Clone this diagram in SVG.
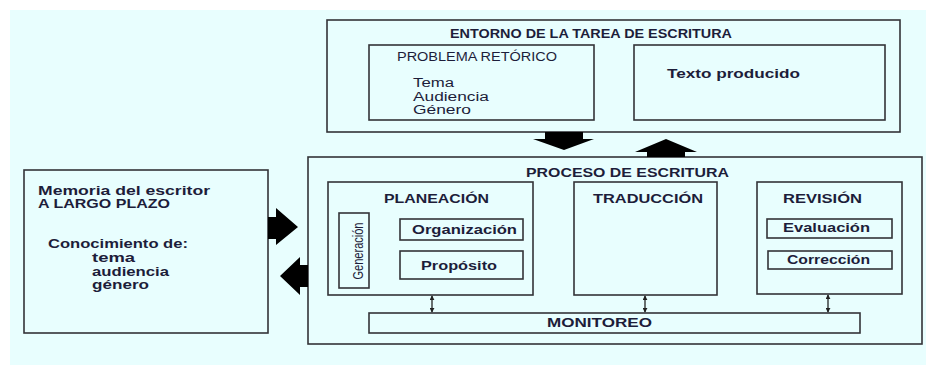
<svg xmlns="http://www.w3.org/2000/svg" width="932" height="365" viewBox="0 0 932 365">
<defs>
<style>
.box{fill:none;stroke:#333338;stroke-width:1.6}
.t{font-family:"Liberation Sans",Arial,sans-serif;fill:#1d1d3a;font-size:12px}
.b{font-weight:bold}
.blk{fill:#000}
.dl{stroke:#222;stroke-width:1.3;marker-start:url(#ah);marker-end:url(#ah)}
</style>
<marker id="ah" viewBox="0 0 6 6" refX="5" refY="3" markerWidth="5" markerHeight="5" orient="auto-start-reverse" markerUnits="userSpaceOnUse">
<path d="M0,0 L6,3 L0,6 z" fill="#222"/>
</marker>
</defs>
<rect x="0" y="0" width="932" height="365" fill="#ffffff"/>
<rect x="10" y="10" width="916" height="355" fill="#e8fefe"/>

<g id="entorno">
<rect class="box" x="327" y="20" width="573" height="112"/>
<text class="t b" x="591" y="38" text-anchor="middle" textLength="282" lengthAdjust="spacingAndGlyphs">ENTORNO DE LA TAREA DE ESCRITURA</text>
</g>
<g id="problema">
<rect class="box" x="369" y="45" width="225" height="75"/>
<text class="t" x="397" y="61" textLength="160" lengthAdjust="spacingAndGlyphs">PROBLEMA RETÓRICO</text>
<text class="t" x="413" y="87" textLength="41" lengthAdjust="spacingAndGlyphs">Tema</text>
<text class="t" x="413" y="101" textLength="76" lengthAdjust="spacingAndGlyphs">Audiencia</text>
<text class="t" x="413" y="114" textLength="58" lengthAdjust="spacingAndGlyphs">Género</text>
</g>
<g id="texto">
<rect class="box" x="634" y="45" width="251" height="75"/>
<text class="t b" x="667" y="78" textLength="133" lengthAdjust="spacingAndGlyphs">Texto producido</text>
</g>

<g id="memoria">
<rect class="box" x="24" y="170" width="244" height="163"/>
<text class="t b" x="38" y="195" textLength="172" lengthAdjust="spacingAndGlyphs">Memoria del escritor</text>
<text class="t b" x="38" y="208" textLength="132" lengthAdjust="spacingAndGlyphs">A LARGO PLAZO</text>
<text class="t b" x="48" y="248" textLength="140" lengthAdjust="spacingAndGlyphs">Conocimiento de:</text>
<text class="t b" x="92" y="262" textLength="43" lengthAdjust="spacingAndGlyphs">tema</text>
<text class="t b" x="92" y="276" textLength="77" lengthAdjust="spacingAndGlyphs">audiencia</text>
<text class="t b" x="92" y="289" textLength="57" lengthAdjust="spacingAndGlyphs">género</text>
</g>

<g id="proceso">
<rect class="box" x="308" y="157" width="614" height="187"/>
<text class="t b" x="526" y="177" textLength="203" lengthAdjust="spacingAndGlyphs">PROCESO DE ESCRITURA</text>
</g>
<g id="planeacion">
<rect class="box" x="328" y="182" width="205" height="113"/>
<text class="t b" x="384" y="203" textLength="105" lengthAdjust="spacingAndGlyphs">PLANEACIÓN</text>
</g>
<g id="generacion">
<rect class="box" x="339" y="213" width="30" height="75"/>
<text class="t" style="font-size:14px" transform="translate(363,251) rotate(-90)" x="0" y="0" text-anchor="middle" textLength="57" lengthAdjust="spacingAndGlyphs">Generación</text>
</g>
<g id="organizacion">
<rect class="box" x="400" y="219" width="123" height="21"/>
<text class="t b" x="412" y="234" textLength="105" lengthAdjust="spacingAndGlyphs">Organización</text>
</g>
<g id="proposito">
<rect class="box" x="400" y="251" width="123" height="28"/>
<text class="t b" x="421" y="270" textLength="76" lengthAdjust="spacingAndGlyphs">Propósito</text>
</g>
<g id="traduccion">
<rect class="box" x="574" y="182" width="143" height="113"/>
<text class="t b" x="593" y="203" textLength="110" lengthAdjust="spacingAndGlyphs">TRADUCCIÓN</text>
</g>
<g id="revision">
<rect class="box" x="757" y="182" width="145" height="112"/>
<text class="t b" x="783" y="203" textLength="79" lengthAdjust="spacingAndGlyphs">REVISIÓN</text>
</g>
<g id="evaluacion">
<rect class="box" x="767" y="219" width="125" height="19"/>
<text class="t b" x="783" y="232" textLength="87" lengthAdjust="spacingAndGlyphs">Evaluación</text>
</g>
<g id="correccion">
<rect class="box" x="768" y="251" width="124" height="18"/>
<text class="t b" x="787" y="264" textLength="83" lengthAdjust="spacingAndGlyphs">Corrección</text>
</g>
<g id="monitoreo">
<rect class="box" x="369" y="313" width="491" height="20"/>
<text class="t b" x="547" y="327" textLength="105" lengthAdjust="spacingAndGlyphs">MONITOREO</text>
</g>

<g id="connectors">
<polygon class="blk" points="545,132 583,132 583,139 594,139 564,150 533,139 545,139"/>
<polygon class="blk" points="647,157 685,157 685,152 697,152 666,139 635,152 647,152"/>
<polygon class="blk" points="268,217 276,217 276,208 298,227 276,245 276,239 268,239"/>
<polygon class="blk" points="308,265 300,265 300,257 280,276 300,295 300,287 308,287"/>
<line class="dl" x1="432" y1="296" x2="432" y2="312"/>
<line class="dl" x1="645" y1="296" x2="645" y2="312"/>
<line class="dl" x1="828" y1="295" x2="828" y2="312"/>
</g>
</svg>
